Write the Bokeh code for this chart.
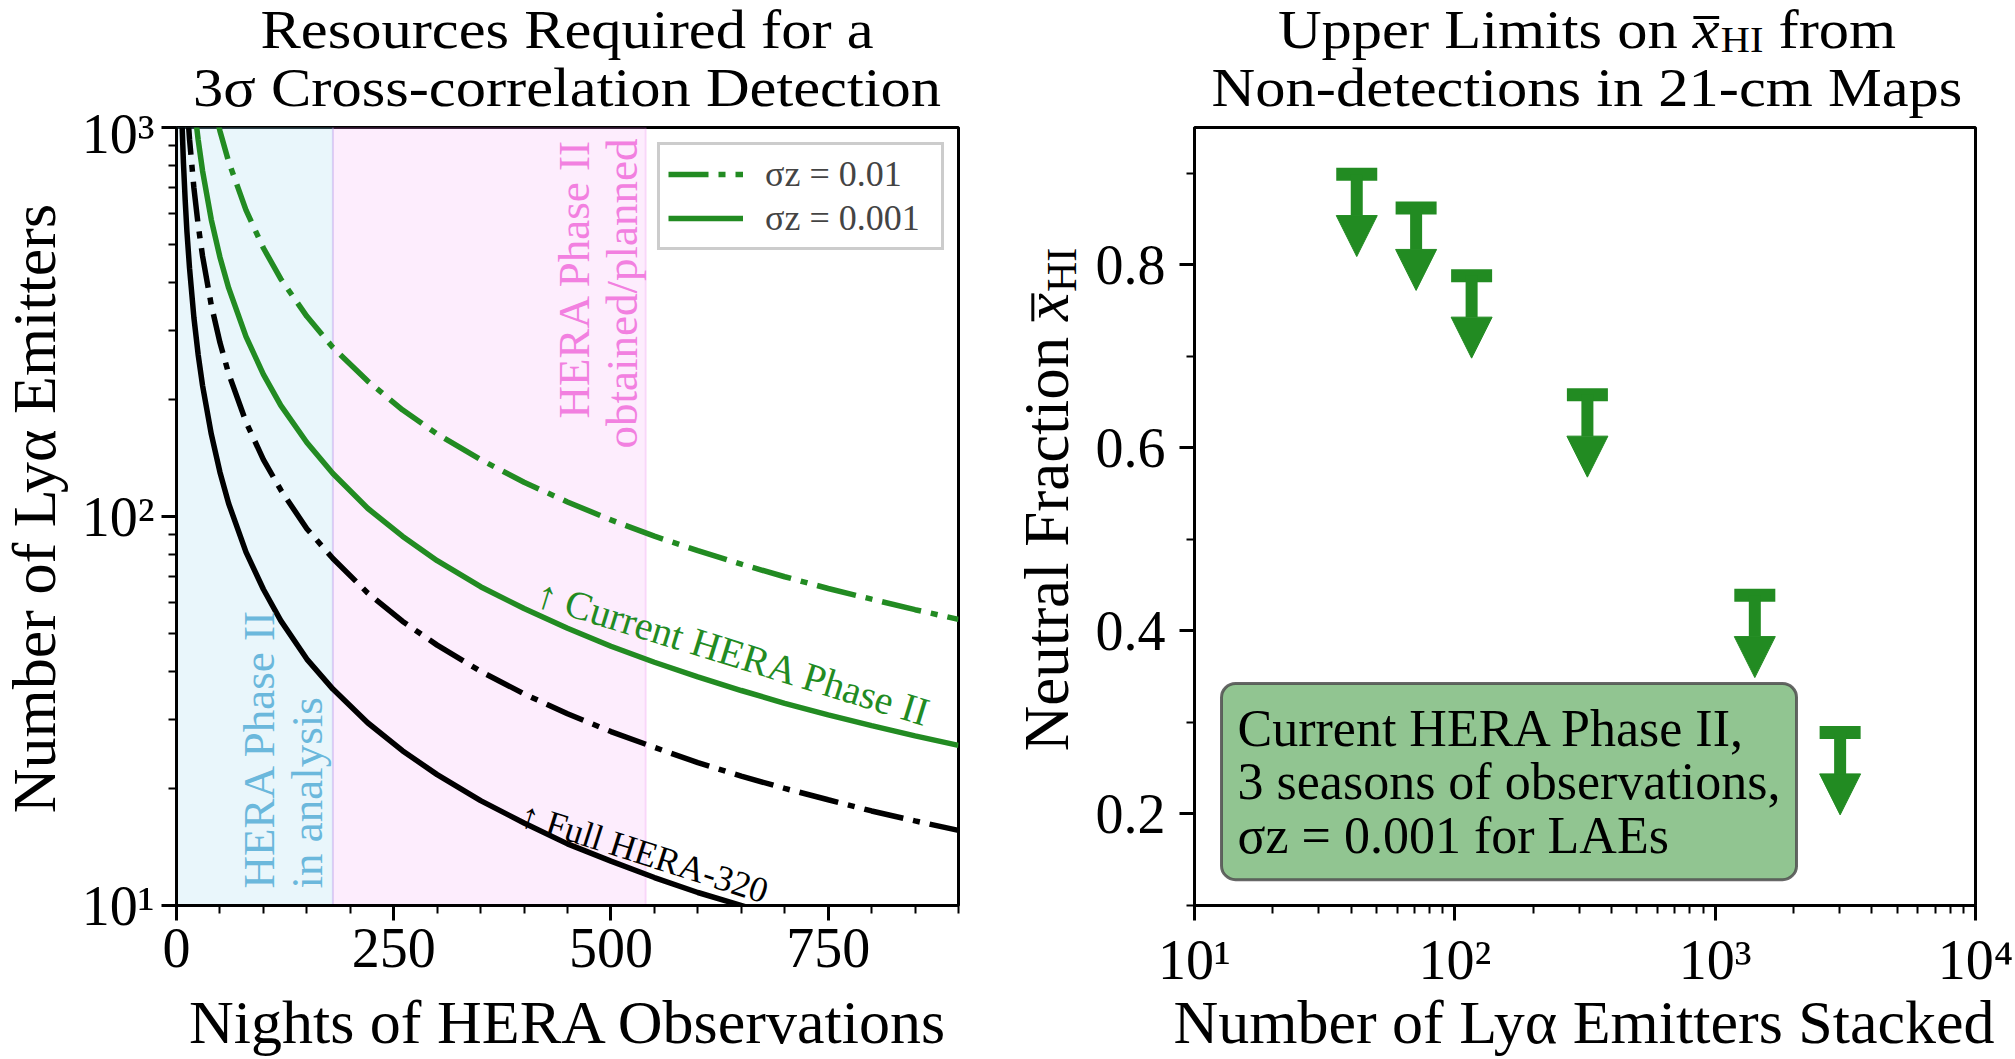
import math
from bokeh.plotting import figure
from bokeh.layouts import row, column
from bokeh.models import (Range1d, FixedTicker, Label, BoxAnnotation, Legend, LegendItem,
                          Arrow, NormalHead, ColumnDataSource, Div)
from bokeh.embed import file_html
from bokeh.resources import INLINE

# ---------------- data: left panel ----------------
# Full HERA-320, sigma_z = 0.001 (black solid)
nights_full_s001 = [6, 8, 10, 12, 15, 20, 25, 30, 40, 50, 60, 80, 100, 120, 150, 180, 220, 260,
                    300, 350, 400, 450, 500, 550, 600, 660]
lae_full_s001 = [1080, 810, 650, 540, 435, 325, 260, 217, 163, 130, 108, 81, 65, 54, 43, 36, 29.5, 25,
                 21.7, 18.6, 16.3, 14.4, 13.0, 11.8, 10.8, 9.85]
# Full HERA-320, sigma_z = 0.01 (black dash-dot)
nights_full_s01 = [13, 15, 20, 25, 30, 40, 50, 60, 80, 100, 120, 150, 180, 220, 260, 300, 350, 400,
                   450, 500, 550, 600, 650, 700, 750, 800, 850, 900]
lae_full_s01 = [1077, 933, 700, 560, 467, 350, 280, 233, 175, 140, 117, 93, 78, 63.6, 53.8, 46.7, 40, 35,
                31.1, 28, 25.5, 23.3, 21.5, 20, 18.7, 17.5, 16.5, 15.6]
# Current HERA Phase II, sigma_z = 0.001 (green solid)
nights_cur_s001 = [22, 25, 30, 40, 50, 60, 80, 100, 120, 150, 180, 220, 260, 300, 350, 400, 450, 500,
                   550, 600, 650, 700, 750, 800, 850, 900]
lae_cur_s001 = [1055, 928, 773, 580, 464, 387, 290, 232, 193, 155, 129, 105, 89, 77, 66, 58, 51.6, 46.4,
                42.2, 38.7, 35.7, 33.1, 30.9, 29, 27.3, 25.8]
# Current HERA Phase II, sigma_z = 0.01 (green dash-dot)
nights_cur_s01 = [47, 50, 60, 80, 100, 120, 150, 180, 220, 260, 300, 350, 400, 450, 500, 550, 600, 650,
                  700, 750, 800, 850, 900]
lae_cur_s01 = [1043, 980, 817, 613, 490, 408, 327, 272, 223, 188, 163, 140, 122.5, 109, 98, 89, 81.7, 75.4,
               70, 65.3, 61.3, 57.6, 54.4]

analysis_nights = [0, 180]     # HERA Phase II in analysis
planned_nights = [180, 540]    # HERA Phase II obtained/planned

x_ticks_left = [0, 250, 500, 750]
y_ticks_left = [10, 100, 1000]
y_tick_labels_left = ["10¹", "10²", "10³"]

# ---------------- data: right panel ----------------
laes_stacked = [42, 71, 116, 323, 1420, 3020]
xhi_upper_limit = [0.899, 0.862, 0.788, 0.658, 0.439, 0.289]

x_ticks_right = [10, 100, 1000, 10000]
x_tick_labels_right = ["10¹", "10²", "10³", "10⁴"]
y_ticks_right = [0.2, 0.4, 0.6, 0.8]
y_tick_labels_right = ["0.2", "0.4", "0.6", "0.8"]

# ---------------- styles ----------------
SERIF = "Liberation Serif"
GREEN = "#228B22"
DASHDOT = "40 10 7 10"
LW = 5.5
LIMIT_LEN = 0.09
T_H = 102          # title strip height
X_H = 56           # x-label strip height
P_H = 898          # plot height
YL_W = 75          # y-label strip width


def style_axes(p):
    p.xgrid.visible = False
    p.ygrid.visible = False
    p.outline_line_color = "black"
    p.outline_line_width = 3
    p.outline_line_alpha = 1
    p.background_fill_color = "white"
    p.border_fill_alpha = 0
    for ax in (p.xaxis[0], p.yaxis[0]):
        ax.axis_line_width = 3
        ax.major_tick_out = 15
        ax.major_tick_in = 0
        ax.minor_tick_out = 8
        ax.minor_tick_in = 0
        ax.major_tick_line_width = 3
        ax.minor_tick_line_width = 2
        ax.major_label_text_font = SERIF
        ax.major_label_text_font_size = "56px"
        ax.major_label_text_color = "black"
        ax.axis_label = None


def lab(p, x, y, text, size, **kw):
    opts = dict(x=x, y=y, x_units="screen", y_units="screen", text=text, text_font=SERIF,
                text_font_size=f"{size}px", text_align="center", text_baseline="alphabetic",
                text_color="black")
    opts.update(kw)
    l = Label(**opts)
    p.add_layout(l)
    return l


FONT_CSS = "font-family:'Liberation Serif',serif;color:black;white-space:nowrap;"


def line_div(html, left, width, size, lh, height, mt=0, sx=1.0):
    return (f'<div style="{FONT_CSS}margin-left:{left}px;margin-top:{mt}px;width:{width}px;'
            f'text-align:center;font-size:{size}px;line-height:{lh}px;height:{height}px;'
            f'transform:scaleX({sx});transform-origin:50% 50%;">{html}</div>')


def hdiv(lines, width, height):
    return Div(text="".join(lines), width=width, height=height, margin=0,
               styles={"overflow": "visible"})


def vdiv(html, width, height, size, lh, dx, dy):
    inner = (f'<div style="width:{width}px;height:{height}px;display:flex;align-items:center;'
             f'justify-content:center;">'
             f'<div style="{FONT_CSS}font-size:{size}px;line-height:{lh}px;'
             f'transform:translate({dx}px,{dy}px) rotate(-90deg);">{html}</div></div>')
    return Div(text=inner, width=width, height=height, margin=0)


def xbar(lh, bw):
    return (f'<span style="display:inline-block;font-style:italic;line-height:{lh}px;'
            f'border-top:{bw}px solid black;">x</span>')


def sub(size, drop):
    return (f'<span style="font-size:{size}px;line-height:0;position:relative;top:{drop}px;'
            f'margin-left:1px;">HI</span>')


# ================= left panel =================
p1 = figure(width=1000 - YL_W, height=P_H, x_range=Range1d(0, 900), y_range=Range1d(10, 1000),
            y_axis_type="log", output_backend="svg", toolbar_location=None,
            min_border_left=176 - YL_W, min_border_right=42, min_border_top=127 - T_H,
            min_border_bottom=T_H + P_H - 905)
style_axes(p1)
p1.xaxis.ticker = FixedTicker(ticks=x_ticks_left,
                              minor_ticks=[v for v in range(50, 901, 50) if v not in x_ticks_left])
p1.xaxis.major_label_standoff = 8
p1.yaxis.ticker = FixedTicker(ticks=y_ticks_left,
                              minor_ticks=[m * 10 ** k for k in (1, 2) for m in range(2, 10)])
p1.yaxis.major_label_overrides = dict(zip(y_ticks_left, y_tick_labels_left))
p1.yaxis.major_label_standoff = 7

p1.add_layout(BoxAnnotation(left=analysis_nights[0], right=analysis_nights[1], fill_color="#87ceeb",
                            fill_alpha=0.18, line_color="#87ceeb", line_alpha=0.3, line_width=2,
                            level="underlay"))
p1.add_layout(BoxAnnotation(left=planned_nights[0], right=planned_nights[1], fill_color="#ee82ee",
                            fill_alpha=0.14, line_color="#ee82ee", line_alpha=0.25, line_width=2,
                            level="underlay"))

r_fs = p1.line(nights_full_s001, lae_full_s001, line_color="black", line_width=LW)
r_fd = p1.line(nights_full_s01, lae_full_s01, line_color="black", line_width=LW, line_dash=DASHDOT)
r_cs = p1.line(nights_cur_s001, lae_cur_s001, line_color=GREEN, line_width=LW)
r_cd = p1.line(nights_cur_s01, lae_cur_s01, line_color=GREEN, line_width=LW, line_dash=DASHDOT)

legend = Legend(items=[LegendItem(label="σz = 0.01", renderers=[r_cd]),
                       LegendItem(label="σz = 0.001", renderers=[r_cs])],
                location=(481, 655), label_text_font=SERIF, label_text_font_size="36px",
                glyph_width=75, glyph_height=36, label_standoff=22, label_width=168,
                padding=8, spacing=2,
                margin=0, border_line_color="#cccccc", border_line_width=3, border_line_alpha=1,
                background_fill_alpha=1)
p1.add_layout(legend)

# region labels
lab(p1, 155, 17, "HERA Phase II\nin analysis", 45, angle=math.pi / 2, text_align="left",
    text_baseline="bottom", text_color="#6bb8dc", text_line_height=0.95)
lab(p1, 470, 767, "HERA Phase II\nobtained/planned", 45, angle=math.pi / 2, text_align="right",
    text_baseline="bottom", text_color="#f280e0", text_line_height=0.95)
# curve labels
lab(p1, 361, 313, "↑ Current HERA Phase II", 40, angle=-0.30, text_align="left", text_color=GREEN)
lab(p1, 345, 92, "↑ Full HERA-320", 36, angle=-0.31, text_align="left", text_color="black")

# ================= right panel =================
p2 = figure(width=2014 - 1000 - YL_W, height=P_H, x_range=Range1d(10, 10000),
            y_range=Range1d(0.1, 0.95), x_axis_type="log", output_backend="svg",
            toolbar_location=None, min_border_left=1194 - 1000 - YL_W, min_border_right=39,
            min_border_top=127 - T_H, min_border_bottom=T_H + P_H - 905)
style_axes(p2)
p2.xaxis.ticker = FixedTicker(ticks=x_ticks_right,
                              minor_ticks=[m * 10 ** k for k in (1, 2, 3) for m in range(2, 10)])
p2.xaxis.major_label_overrides = dict(zip(x_ticks_right, x_tick_labels_right))
p2.xaxis.major_label_standoff = 8
p2.yaxis.ticker = FixedTicker(ticks=y_ticks_right, minor_ticks=[0.1, 0.3, 0.5, 0.7, 0.9])
p2.yaxis.major_label_overrides = dict(zip(y_ticks_right, y_tick_labels_right))
p2.yaxis.major_label_standoff = 14

src = ColumnDataSource(dict(x=laes_stacked, y=xhi_upper_limit,
                            y_tip=[v - LIMIT_LEN for v in xhi_upper_limit]))
p2.add_layout(Arrow(end=NormalHead(size=41, fill_color=GREEN, line_color=GREEN, line_width=1),
                    x_start="x", y_start="y", x_end="x", y_end="y_tip", source=src,
                    line_color=GREEN, line_width=12))
p2.rect(x="x", y="y", width=41, height=13, width_units="screen", height_units="screen",
        source=src, fill_color=GREEN, line_color=GREEN, line_width=0)

lab(p2, 27, 222, "Current HERA Phase II,\n3 seasons of observations,\nσz = 0.001 for LAEs", 52,
    text_align="left", text_baseline="top", text_line_height=0.94,
    background_fill_color="#91c591", background_fill_alpha=1,
    border_line_color="#4d4d4d", border_line_width=3, border_line_alpha=0.85,
    border_radius=14, padding=16)

# ================= text strips (titles, axis labels) =================
TS = 54      # title font size
TLH = 60     # title line-height (>= font content height)
title1 = hdiv([line_div("Resources Required for a", 147, 840, TS, TLH, 58, sx=1.12),
               line_div("3σ Cross-correlation Detection", 147, 840, TS, TLH, 60, sx=1.12)],
              1000, T_H)
title2 = hdiv([line_div(f"Upper Limits on {xbar(22, 3)}{sub(36, 4)} from", 167, 840, TS, TLH, 58,
                        sx=1.12),
               line_div("Non-detections in 21-cm Maps", 167, 840, TS, TLH, 60, sx=1.12)],
              1014, T_H)
xlab1 = hdiv([line_div("Nights of HERA Observations", 147, 840, 62, 69, 69, mt=-12)], 1000, X_H)
xlab2 = hdiv([line_div("Number of Lyα Emitters Stacked", 164, 840, 62, 69, 69, mt=-12)], 1014, X_H)
ylab1 = vdiv("Number of Lyα Emitters", YL_W, P_H, 62, 69, -3, -43)
ylab2 = vdiv(f"Neutral Fraction {xbar(26, 3)}{sub(42, 8)}", YL_W, P_H, 63, 69, 10, -52)

layout = column(row(title1, title2),
                row(ylab1, p1, ylab2, p2),
                row(xlab1, xlab2))
open("out.html", "w").write(file_html(layout, INLINE))
